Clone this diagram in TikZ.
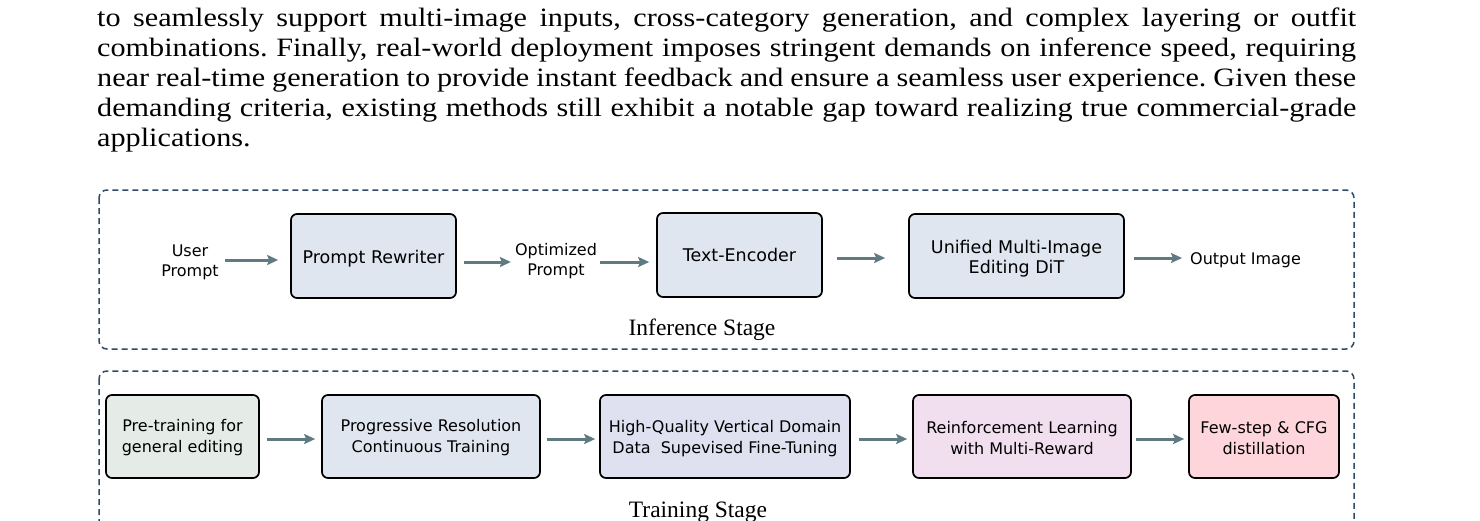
\documentclass[tikz,border=0pt]{standalone}
\usepackage{fontspec}
\setmainfont{Liberation Serif}
\newfontfamily\parafont[FakeStretch=1.14]{Liberation Serif}
\newfontfamily\boxfont{DejaVu Sans}
\usetikzlibrary{arrows.meta}
\definecolor{framecol}{HTML}{2E4A66}
\definecolor{arrowcol}{HTML}{5F7A80}
\definecolor{fillblue}{HTML}{DFE6F0}
\definecolor{fillgreen}{HTML}{E5ECE8}
\definecolor{filllav}{HTML}{DFE0F0}
\definecolor{fillpink}{HTML}{F1DFF0}
\definecolor{fillred}{HTML}{FDD5DB}
\newcommand{\lowerby}[2]{\raisebox{-#1}[\height][\depth]{#2}}
\tikzset{
  frame/.style={draw=framecol, line width=1.5pt, dash pattern=on 6pt off 4pt, rounded corners=8pt},
  stagebox/.style={draw=black, line width=1.7pt, rounded corners=6pt, align=center,
    font=\boxfont\fontsize{16}{21}\selectfont, inner sep=0pt},
  infbox/.style={stagebox, font=\boxfont\fontsize{17.5}{20}\selectfont},
  plain/.style={align=center, font=\boxfont\fontsize{16}{20}\selectfont, inner sep=0pt},
  flow/.style={draw=arrowcol, line width=3pt, -{Stealth[length=11pt,width=10pt,inset=2pt]}},
  stagelabel/.style={font=\fontsize{23.5}{27}\selectfont, inner sep=0pt},
  para/.style={anchor=base west, inner sep=0pt, font=\parafont\fontsize{26.5}{30}\selectfont}
}
\frenchspacing
\begin{document}
\begin{tikzpicture}[x=1pt,y=-1pt]
\useasboundingbox (0,0) rectangle (1480,520);
\clip (0,0) rectangle (1480,520);
% paragraph
\node[para] (l1) at (97,26) {\makebox[1259pt][s]{to seamlessly support multi-image inputs, cross-category generation, and complex layering or outfit}};
\node[para] (l2) at (97,56) {\makebox[1259pt][s]{combinations. Finally, real-world deployment imposes stringent demands on inference speed, requiring}};
\node[para] (l3) at (97,86) {\makebox[1259pt][s]{near real-time generation to provide instant feedback and ensure a seamless user experience. Given these}};
\node[para] (l4) at (97,116) {\makebox[1259pt][s]{demanding criteria, existing methods still exhibit a notable gap toward realizing true commercial-grade}};
\node[para] (l5) at (97,146) {applications.};
% frames
\draw[frame] (99,190) rectangle (1354,349);
\draw[frame] (99,371) rectangle (1354,580);
% inference stage
\node[plain] (up) at (190,262) {User\\Prompt};
\node[infbox, fill=fillblue, minimum width=165pt, minimum height=84pt] (pr) at (373.5,256) {\lowerby{3pt}{Prompt Rewriter}};
\node[plain] (op) at (556,261.5) {Optimized\\Prompt};
\node[infbox, fill=fillblue, minimum width=165pt, minimum height=84pt] (te) at (739.5,255) {Text-Encoder};
\node[infbox, fill=fillblue, minimum width=215pt, minimum height=84pt] (dit) at (1016.5,256) {\lowerby{2.5pt}{Unified Multi-Image}\\\lowerby{2.5pt}{Editing DiT}};
\node[plain, anchor=west] (out) at (1190,260) {Output Image};
\node[stagelabel] (inf) at (702,330) {Inference Stage};
\draw[flow, shorten <=6pt, shorten >=12pt] (up.east |- 0,260) -- (pr.west |- 0,260);
\draw[flow, shorten <=7pt, shorten >=4pt] (pr.east |- 0,262) -- (op.west |- 0,262);
\draw[flow, shorten <=3pt, shorten >=7pt] (op.east |- 0,262) -- (te.west |- 0,262);
\draw[flow, shorten <=14pt, shorten >=23pt] (te.east |- 0,258) -- (dit.west |- 0,258);
\draw[flow, shorten <=9pt, shorten >=8pt] (dit.east |- 0,258) -- (out.west |- 0,258);
% training stage
\node[stagebox, fill=fillgreen, minimum width=153pt, minimum height=83pt] (t1) at (182.5,436.5) {\lowerby{1.5pt}{Pre-training for}\\\lowerby{1.5pt}{general editing}};
\node[stagebox, fill=fillblue, minimum width=218pt, minimum height=83pt] (t2) at (431,436.5) {\lowerby{1.5pt}{Progressive Resolution}\\\lowerby{1.5pt}{Continuous Training}};
\node[stagebox, fill=filllav, minimum width=250pt, minimum height=83pt] (t3) at (725,436.5) {\lowerby{2pt}{High-Quality Vertical Domain}\\\lowerby{2pt}{Data\ \ Supevised Fine-Tuning}};
\node[stagebox, fill=fillpink, minimum width=218pt, minimum height=83pt] (t4) at (1022,436.5) {\lowerby{1.5pt}{Reinforcement Learning}\\\lowerby{1.5pt}{with Multi-Reward}};
\node[stagebox, fill=fillred, minimum width=150pt, minimum height=83pt] (t5) at (1264,436.5) {\lowerby{1.5pt}{Few-step \& CFG}\\\lowerby{1.5pt}{distillation}};
\node[stagelabel] (trn) at (698,512) {Training Stage};
\draw[flow, shorten <=7pt, shorten >=6pt] (t1.east |- 0,439) -- (t2.west |- 0,439);
\draw[flow, shorten <=6pt, shorten >=4pt] (t2.east |- 0,439) -- (t3.west |- 0,439);
\draw[flow, shorten <=8pt, shorten >=5pt] (t3.east |- 0,439) -- (t4.west |- 0,439);
\draw[flow, shorten <=4pt, shorten >=4pt] (t4.east |- 0,439) -- (t5.west |- 0,439);
\end{tikzpicture}
\end{document}
